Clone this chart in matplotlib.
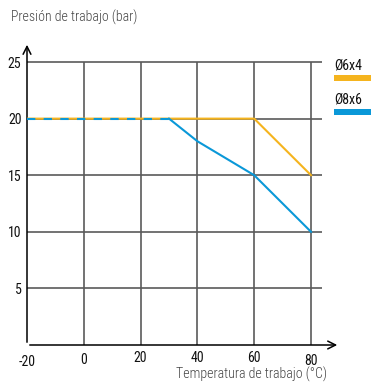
import matplotlib
matplotlib.use("Agg")
import matplotlib.pyplot as plt
from matplotlib.patches import Rectangle
from matplotlib.transforms import ScaledTranslation

# Data
series_names = ["Ø6x4", "Ø8x6"]
series_colors = ["#F5B41E", "#0A98D8"]
temp_6x4 = [-20, 60, 80]
pres_6x4 = [20, 20, 15]
temp_8x6 = [-20, 30, 40, 60, 80]
pres_8x6 = [20, 20, 18, 15, 10]
x_ticks = [-20, 0, 20, 40, 60, 80]
y_ticks = [5, 10, 15, 20, 25]

W, H = 371, 382
fig = plt.figure(figsize=(W / 100, H / 100), dpi=100)
ax = fig.add_axes([27 / W, (H - 345) / H, (340 - 27) / W, (345 - 42) / H])
ax.set_xlim(-20, 90.2)
ax.set_ylim(0, 26.77)
for s in ax.spines.values():
    s.set_visible(False)
ax.tick_params(length=0)

font = ["Roboto Condensed", "DejaVu Sans"]
reg = dict(fontfamily=font, fontstretch="condensed")
light = dict(fontfamily=font, fontstretch="condensed", fontweight="light")
grid_c = "#5a5a5a"

# grid
ax.hlines(y_ticks, -20, 83.9, color=grid_c, lw=1.2, zorder=1)
ax.vlines([t for t in x_ticks if t > -20], 0, 25, color=grid_c, lw=1.2, zorder=1)

# axes with arrows
ax.annotate("", xy=(90.2, 0), xytext=(-20, 0),
            arrowprops=dict(arrowstyle="->", color="black", lw=1.1, mutation_scale=14),
            annotation_clip=False, zorder=3)
ax.annotate("", xy=(-20, 26.77), xytext=(-20, 0),
            arrowprops=dict(arrowstyle="->", color="black", lw=1.1, mutation_scale=14),
            annotation_clip=False, zorder=3)

# series
ax.plot(temp_6x4, pres_6x4, color=series_colors[0], lw=1.5, zorder=4)
split = temp_8x6.index(30)
ax.plot(temp_8x6[:split + 1], pres_8x6[:split + 1], color=series_colors[1], lw=1.5,
        dashes=(4, 4), zorder=5)
ax.plot(temp_8x6[split:], pres_8x6[split:], color=series_colors[1], lw=1.5, zorder=5)

# tick labels
ax.set_xticks(x_ticks)
ax.set_xticklabels([str(t) for t in x_ticks], fontsize=10, color="#111111", **reg)
ax.set_yticks(y_ticks)
ax.set_yticklabels([str(t) for t in y_ticks], fontsize=10, color="#111111", **reg)
ax.tick_params(axis="x", pad=4)
ax.tick_params(axis="y", pad=4)
x_offsets = [-4, -2, 0, 0, 0, -3]
for lab, dy in zip(ax.get_xticklabels(), x_offsets):
    lab.set_transform(lab.get_transform() + ScaledTranslation(0, dy / 100, fig.dpi_scale_trans))

# axis titles
fig.text(11 / W, 1 - 17 / H, "Presión de trabajo (bar)", fontsize=10,
         color="#444444", va="center", ha="left", **light)
fig.text(327 / W, 1 - 378.5 / H, "Temperatura de trabajo (°C)", fontsize=10,
         color="#444444", va="baseline", ha="right", **light)

# legend
for i, (name, col) in enumerate(zip(series_names, series_colors)):
    y0 = 66 + i * 34
    fig.text(334 / W, 1 - y0 / H, name, fontsize=10, color="#111111",
             va="center", ha="left", **reg)
    fig.patches.append(Rectangle((334 / W, 1 - (y0 + 15) / H), 37 / W, 6 / H,
                                 transform=fig.transFigure, color=col, lw=0))

fig.savefig("out.png", dpi=100)
